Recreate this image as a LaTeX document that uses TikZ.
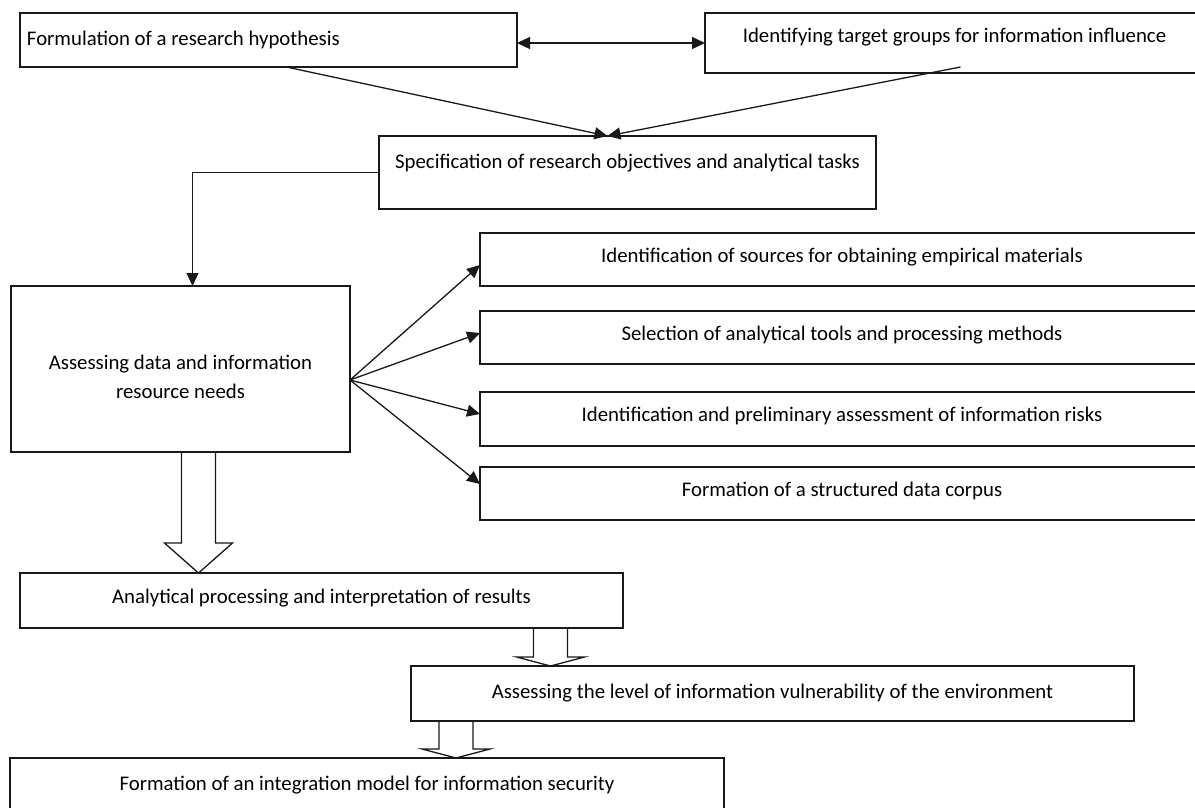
\documentclass[tikz,border=0pt]{standalone}
\usepackage{fontspec}
\setmainfont{Carlito}
\usetikzlibrary{calc, arrows.meta, positioning}

\newcommand{\fatarrow}[4]{% x of the tip, upper node, lower node, head length
  \draw [fat] let \p1 = (#2.south), \p2 = (#3.north) in
    (#1pt-17pt, \y1) -- (#1pt-17pt, \y2+#4pt) -- (#1pt-34pt, \y2+#4pt) -- (#1pt, \y2)
    -- (#1pt+34pt, \y2+#4pt) -- (#1pt+17pt, \y2+#4pt) -- (#1pt+17pt, \y1);}

\begin{document}
\begin{tikzpicture}[
        x=1pt, y=-1pt,
        >={Triangle[length=13pt, width=12pt]},
        box/.style = {draw=black!90, rectangle, line width=1.4pt, inner sep=0pt, outer sep=0pt, anchor=north west, align=center, text=black, font=\fontsize{20.8}{29}\selectfont},
        oneline/.style = {text height=15pt, text depth=#1},
        oneline/.default = 5pt,
        side/.style = {box, oneline=10pt, minimum width=724pt, minimum height=53pt},
        arrow/.style = {draw=black!90, ->, line width=1.3pt},
        fat/.style = {draw=black!90, line width=1.3pt}
    ]
        \useasboundingbox (0,0) rectangle (1195,807);

        % Top
        \node (hypo) [box, oneline, text width=483pt, inner xsep=7pt, align=flush left, minimum height=54pt] at (20,13) {Formulation of a research hypothesis};
        \node (target) [box, oneline=17pt, minimum width=499pt, minimum height=60pt] at (705,13) {Identifying target groups for information influence};
        \node (spec) [box, oneline=24pt, minimum width=497pt, minimum height=73pt] at (379,136) {Specification of research objectives and analytical tasks};

        % Needs and its branches
        \node (needs) [box, minimum width=339pt, minimum height=166pt] at (11,286) {\rule{0pt}{31pt}Assessing data and information\\resource needs};
        \node (src) [side] at (480,233) {Identification of sources for obtaining empirical materials};
        \node (tools) [side, below=25pt of src.south west, anchor=north west] {Selection of analytical tools and processing methods};
        \node (risks) [side, minimum height=54pt, below=28pt of tools.south west, anchor=north west] {Identification and preliminary assessment of information risks};
        \node (corpus) [side, below=21pt of risks.south west, anchor=north west] {Formation of a structured data corpus};

        % Bottom
        \node (analysis) [box, oneline=10pt, minimum width=603pt, minimum height=55pt] at (20,573) {Analytical processing and interpretation of results};
        \node (vuln) [box, oneline, minimum width=723pt, minimum height=55pt] at (411,666) {Assessing the level of information vulnerability of the environment};
        \node (model) [box, oneline, minimum width=714pt, minimum height=54pt] at (10,758) {Formation of an integration model for information security};

        % Arrows
        \draw [arrow, <->] (target.west -| hypo.east) -- (target.west);
        \draw [arrow] ([xshift=18pt]hypo.south) -- ([xshift=-20pt]spec.north);
        \draw [arrow] ([xshift=6pt, yshift=6pt]target.south) -- ([xshift=-20pt]spec.north);
        \draw [arrow] (spec.west) -| ([xshift=12pt]needs.north);

        \foreach \n/\dy in {src/-5.5, tools/4.5, risks/5, corpus/9.5}
            \draw [arrow] ([yshift=-11pt]needs.east) -- ([yshift=\dy pt]\n.west);

        \fatarrow{198.5}{needs}{analysis}{30}
        \fatarrow{550.5}{analysis}{vuln}{9}
        \fatarrow{456}{vuln}{model}{9}

    \end{tikzpicture}
\end{document}
